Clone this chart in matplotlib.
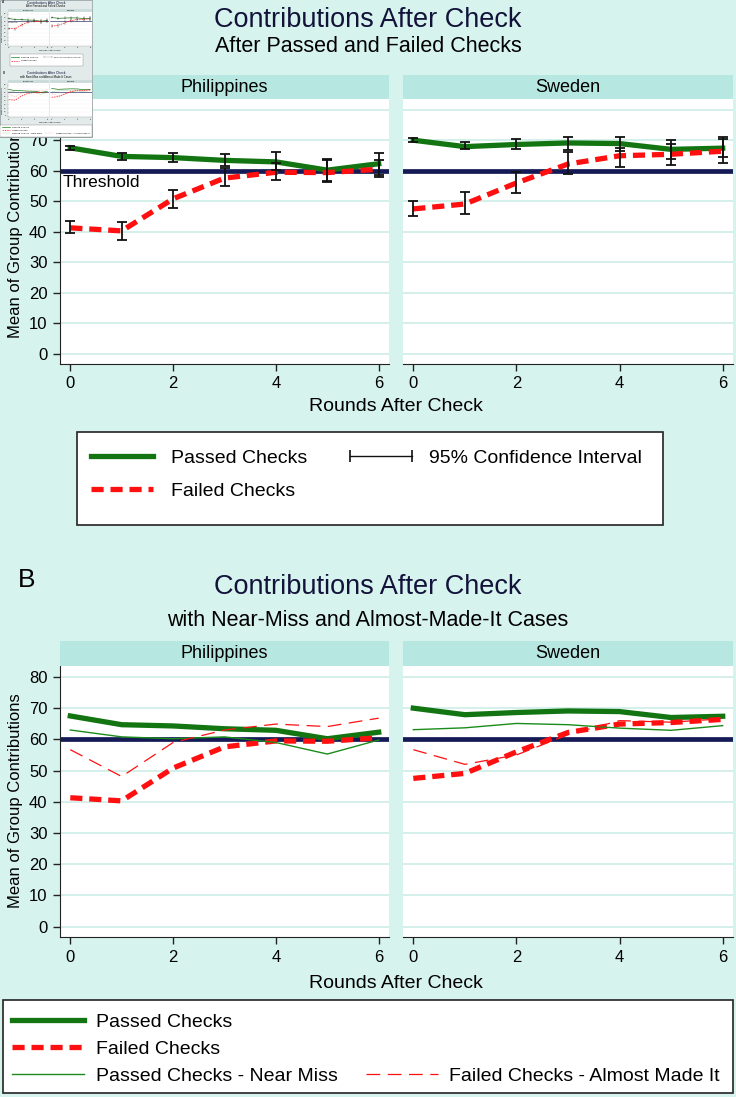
#contributions after check - two panel figure (A: with CIs, B: near miss cases)
#the screenshot also has a small thumbnail of the figure in the top left corner,
#so the whole figure gets drawn by one function that can be offset and scaled
import numpy as np
import matplotlib.pyplot as plt
from matplotlib.lines import Line2D
from matplotlib.patches import Rectangle

plt.rcParams['font.family'] = ['Liberation Sans', 'DejaVu Sans']

#data
rounds = [0, 1, 2, 3, 4, 5, 6]
countries = ["Philippines", "Sweden"]
threshold = 60

phl_passed = [67.5, 64.7, 64.3, 63.4, 62.9, 60.2, 62.3]
phl_passed_lo = [66.9, 63.6, 63.0, 61.4, 60.2, 56.6, 58.6]
phl_passed_hi = [68.1, 65.8, 65.7, 65.5, 66.2, 64.0, 65.8]
phl_failed = [41.3, 40.3, 50.8, 57.6, 59.5, 59.4, 60.5]
phl_failed_lo = [39.5, 37.4, 47.8, 54.9, 57.0, 56.3, 58.0]
phl_failed_hi = [43.6, 43.3, 53.8, 61.0, 62.7, 63.6, 63.4]

swe_passed = [70.0, 67.9, 68.6, 69.1, 68.9, 67.0, 67.4]
swe_passed_lo = [69.4, 67.0, 67.2, 66.9, 66.6, 64.0, 64.5]
swe_passed_hi = [70.7, 69.5, 70.4, 71.2, 71.1, 70.2, 71.2]
swe_failed = [47.5, 49.1, 56.0, 62.2, 64.9, 65.4, 66.4]
swe_failed_lo = [45.2, 45.7, 52.6, 58.9, 61.3, 61.8, 62.5]
swe_failed_hi = [50.0, 52.9, 59.7, 66.2, 67.3, 68.7, 70.4]

#panel B extra series
phl_nearmiss = [63.0, 60.8, 60.2, 60.8, 59.0, 55.3, 59.8]
phl_almost = [56.7, 48.1, 59.0, 63.0, 64.9, 64.1, 66.8]
swe_nearmiss = [63.1, 63.7, 65.1, 64.7, 63.6, 62.9, 64.4]
swe_almost = [56.7, 52.0, 55.0, 61.5, 66.0, 65.5, 66.6]

yticks = [0, 10, 20, 30, 40, 50, 60, 70, 80]
xticks = [0, 2, 4, 6]

#colours
main_cols = dict(bg="#d7f3ed", strip="#b6e7e1", grid="#cdece6")
thumb_cols = dict(bg="#e3ebea", strip="#cbdcda", grid="#e3ebea")
green = "#127512"
green_thin = "#1b8c1b"
red = "#ff1010"
navy = "#141a55"

W, H = 736, 1097
fig = plt.figure(figsize=(W / 100, H / 100), dpi=100, facecolor=main_cols["bg"])

thick_dash = (0, (2.3, 1.3))
thin_dash = (0, (11, 6))


def draw_figure(ox, oy, s, cols, z):
    #px coords are in the 736x1097 reference frame, moved by (ox, oy) and scaled by s
    def fx(px):
        return (ox + s * px) / W

    def fy(py):
        return 1 - (oy + s * py) / H

    def fw(px):
        return s * px / W

    def ftext(px, py, txt, size, **kw):
        fig.text(fx(px), fy(py), txt, fontsize=size * s, ha='center', va='center', zorder=z + 3, **kw)

    if z > 0:
        fig.patches.append(Rectangle((fx(0), fy(H)), fw(W), fy(0) - fy(H), transform=fig.transFigure,
                                     facecolor=cols["bg"], edgecolor="#9aa6a5", lw=0.6, zorder=z))

    def make_panel(top_px, bottom_px, strip_top_px):
        axes = []
        for i, (l, r) in enumerate([(60, 389), (403, 733)]):
            ax = fig.add_axes([fx(l), fy(bottom_px), fw(r - l), fy(top_px) - fy(bottom_px)])
            ax.set_zorder(z + 1)
            ax.set_facecolor("white")
            ax.set_xlim(-0.2, 6.2)
            ax.set_ylim(-3.3, 83.5)
            ax.set_yticks(yticks)
            ax.set_xticks(xticks)
            ax.grid(axis='y', color=cols["grid"], lw=1.2 * s, zorder=0)
            ax.axhline(threshold, color=navy, lw=3.4 * s, zorder=2)
            for sp in ["top", "right"]:
                ax.spines[sp].set_visible(False)
            for sp in ["bottom", "left"]:
                ax.spines[sp].set_color("#222222")
                ax.spines[sp].set_linewidth(0.8 * s)
            ax.tick_params(axis='both', labelsize=12 * s, length=5 * s, width=s, color="#222222", pad=4 * s)
            if i == 1:
                ax.spines["left"].set_visible(False)
                ax.tick_params(axis='y', left=False, labelleft=False)
            #strip on top
            sax = fig.add_axes([fx(l), fy(top_px), fw(r - l), fy(strip_top_px) - fy(top_px)])
            sax.set_zorder(z + 1)
            sax.set_facecolor(cols["strip"])
            sax.set_xticks([])
            sax.set_yticks([])
            for sp in sax.spines.values():
                sp.set_visible(False)
            sax.text(0.5, 0.5, countries[i], ha='center', va='center', fontsize=13 * s, transform=sax.transAxes)
            axes.append(ax)
        return axes

    def legend_box(x0, y0, x1, y1):
        fig.patches.append(Rectangle((fx(x0), fy(y1)), fw(x1 - x0), fy(y0) - fy(y1), transform=fig.transFigure,
                                     facecolor='white', edgecolor='#222222', lw=1.2 * s, zorder=z + 2))

    #---------------- panel A ----------------
    ftext(27, 18, "A", 19)
    ftext(368, 20, "Contributions After Check", 19.5, color="#12123a")
    ftext(368, 47, "After Passed and Failed Checks", 15.5)

    axA = make_panel(99, 364, 75)
    series_A = [
        (phl_passed, phl_passed_lo, phl_passed_hi, phl_failed, phl_failed_lo, phl_failed_hi),
        (swe_passed, swe_passed_lo, swe_passed_hi, swe_failed, swe_failed_lo, swe_failed_hi),
    ]
    for ax, (p, plo, phi, f, flo, fhi) in zip(axA, series_A):
        p = np.array(p)
        f = np.array(f)
        ax.plot(rounds, p, color=green, lw=3.8 * s, zorder=3)
        ax.plot(rounds, f, color=red, lw=3.8 * s, linestyle=thick_dash, dash_capstyle='butt', zorder=3)
        for m, lo, hi in [(p, plo, phi), (f, flo, fhi)]:
            ax.errorbar(rounds, m, yerr=[m - np.array(lo), np.array(hi) - m], fmt='none',
                        ecolor='#111111', elinewidth=1.3 * s, capsize=3.5 * s, capthick=1.3 * s, zorder=4)
    axA[0].text(-0.14, 56.3, "Threshold", fontsize=12.5 * s, ha='left', va='center', zorder=5)

    ftext(16, 231, "Mean of Group Contributions", 12, rotation=90)
    ftext(396, 407, "Rounds After Check", 14)

    legend_box(77, 432, 663, 525)
    hA = [Line2D([], [], color=green, lw=3.8 * s),
          Line2D([], [], color=red, lw=3.8 * s, linestyle=thick_dash),
          Line2D([], [], color='#111111', lw=s, marker='|', markersize=8 * s, markeredgewidth=1.2 * s),
          Line2D([], [], color='none')]
    labA = ["Passed Checks", "Failed Checks", "95% Confidence Interval", ""]
    lg = fig.legend(hA, labA, loc='upper left', bbox_to_anchor=(fx(85), fy(449)), bbox_transform=fig.transFigure,
                    ncol=2, frameon=False, fontsize=14 * s, handlelength=3.8, handletextpad=0.6,
                    columnspacing=1.9, labelspacing=0.8, borderpad=0, borderaxespad=0, numpoints=2)
    lg.set_zorder(z + 4)

    #---------------- panel B ----------------
    ftext(27, 580, "B", 19)
    ftext(368, 587, "Contributions After Check", 19.5, color="#12123a")
    ftext(368, 620, "with Near-Miss and Almost-Made-It Cases", 15.5)

    axB = make_panel(666, 937, 641)
    series_B = [(phl_passed, phl_failed, phl_nearmiss, phl_almost),
                (swe_passed, swe_failed, swe_nearmiss, swe_almost)]
    for ax, (p, f, nm, am) in zip(axB, series_B):
        ax.plot(rounds, p, color=green, lw=3.8 * s, zorder=3)
        ax.plot(rounds, f, color=red, lw=3.8 * s, linestyle=thick_dash, dash_capstyle='butt', zorder=3)
        ax.plot(rounds, nm, color=green_thin, lw=1.0 * s, zorder=3)
        ax.plot(rounds, am, color=red, lw=0.9 * s, linestyle=thin_dash, zorder=3)

    ftext(16, 801, "Mean of Group Contributions", 12, rotation=90)
    ftext(396, 983, "Rounds After Check", 14)

    legend_box(3, 1000, 733, 1093)
    hB = [Line2D([], [], color=green, lw=3.8 * s),
          Line2D([], [], color=red, lw=3.8 * s, linestyle=thick_dash),
          Line2D([], [], color=green_thin, lw=1.0 * s),
          Line2D([], [], color='none'),
          Line2D([], [], color='none'),
          Line2D([], [], color=red, lw=0.9 * s, linestyle=thin_dash)]
    labB = ["Passed Checks", "Failed Checks", "Passed Checks - Near Miss", "", "",
            "Failed Checks - Almost Made It"]
    lg = fig.legend(hB, labB, loc='upper left', bbox_to_anchor=(fx(12), fy(1013)), bbox_transform=fig.transFigure,
                    ncol=2, frameon=False, fontsize=14 * s, handlelength=3.7, handletextpad=0.6,
                    columnspacing=1.45, labelspacing=0.5, borderpad=0, borderaxespad=0)
    lg.set_zorder(z + 4)


#main figure, then the little thumbnail copy sitting on top of the corner
draw_figure(0, 0, 1.0, main_cols, 0)
draw_figure(0, 0, 0.125, thumb_cols, 10)

fig.savefig("out.png", dpi=100, facecolor=main_cols["bg"])
